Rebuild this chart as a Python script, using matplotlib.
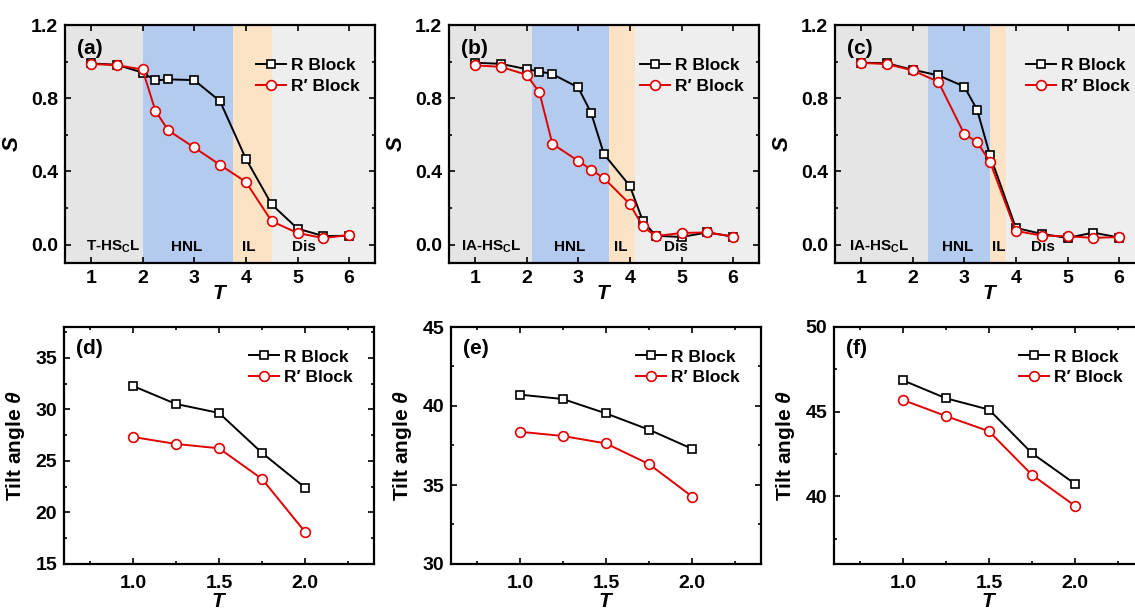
import matplotlib
matplotlib.use("Agg")
import matplotlib.pyplot as plt
from matplotlib.ticker import MultipleLocator, FormatStrFormatter

plt.rcParams['font.family'] = ['Liberation Sans', 'DejaVu Sans']
plt.rcParams['font.weight'] = 'bold'
plt.rcParams['axes.labelweight'] = 'bold'
plt.rcParams['mathtext.fontset'] = 'custom'
plt.rcParams['mathtext.rm'] = 'Liberation Sans:bold'
plt.rcParams['mathtext.it'] = 'Liberation Sans:italic:bold'
plt.rcParams['mathtext.bf'] = 'Liberation Sans:bold'

# ---- top row: order parameter S vs T ----
T_a = [1, 1.5, 2, 2.25, 2.5, 3, 3.5, 4, 4.5, 5, 5.5, 6]
S_a_R = [0.99, 0.983, 0.94, 0.897, 0.903, 0.899, 0.784, 0.47, 0.22, 0.088, 0.047, 0.049]
S_a_Rp = [0.987, 0.981, 0.957, 0.731, 0.624, 0.531, 0.436, 0.343, 0.128, 0.064, 0.036, 0.053]

T_b = [1, 1.5, 2, 2.25, 2.5, 3, 3.25, 3.5, 4, 4.25, 4.5, 5, 5.5, 6]
S_b_R = [0.994, 0.988, 0.959, 0.946, 0.932, 0.859, 0.72, 0.494, 0.321, 0.131, 0.049, 0.042, 0.067, 0.044]
S_b_Rp = [0.979, 0.972, 0.928, 0.832, 0.551, 0.458, 0.41, 0.363, 0.222, 0.10, 0.047, 0.064, 0.067, 0.044]

T_c = [1, 1.5, 2, 2.5, 3, 3.25, 3.5, 4, 4.5, 5, 5.5, 6]
S_c_R = [0.994, 0.991, 0.956, 0.925, 0.864, 0.738, 0.488, 0.092, 0.059, 0.037, 0.066, 0.039]
S_c_Rp = [0.993, 0.987, 0.952, 0.89, 0.606, 0.56, 0.453, 0.075, 0.05, 0.046, 0.037, 0.042]

# phase boundaries (T) and labels
bounds_a = [2.0, 3.75, 4.5]
bounds_b = [2.1, 3.6, 4.1]
bounds_c = [2.3, 3.5, 3.8]
phase_a = ['T-HS$_\\mathregular{C}$L', 'HNL', 'IL', 'Dis']
phase_bc = ['IA-HS$_\\mathregular{C}$L', 'HNL', 'IL', 'Dis']
labx_a = [1.43, 2.85, 4.06, 5.13]
labx_b = [1.31, 2.84, 3.82, 4.89]
labx_c = [1.35, 2.87, 3.67, 4.53]

# ---- bottom row: tilt angle vs T ----
T_low = [1.0, 1.25, 1.5, 1.75, 2.0]
tilt_d_R = [32.28, 30.53, 29.66, 25.78, 22.41]
tilt_d_Rp = [27.33, 26.65, 26.23, 23.25, 18.11]
tilt_e_R = [40.72, 40.44, 39.53, 38.5, 37.29]
tilt_e_Rp = [38.37, 38.1, 37.63, 36.32, 34.27]
tilt_f_R = [46.85, 45.79, 45.12, 42.54, 40.73]
tilt_f_Rp = [45.69, 44.74, 43.84, 41.26, 39.43]

region_cols = ['#e5e5e5', '#b2cbee', '#fde3c5', '#eeeeee']

fig = plt.figure(figsize=(11.35, 6.11), dpi=100)
W, H = 1135.0, 611.0


def make_ax(l, t, w, h):
    return fig.add_axes([l / W, 1 - (t + h) / H, w / W, h / H])


def style(ax):
    for s in ax.spines.values():
        s.set_linewidth(1.6)
    ax.tick_params(which='both', direction='in', top=True, right=True, width=1.2)
    ax.tick_params(which='major', length=4, labelsize=14, pad=5)
    ax.tick_params(which='minor', length=2.5)


def plot_pair(ax, x, yR, yRp, ms=6):
    ax.plot(x, yR, '-s', color='black', lw=1.4, ms=ms, mfc='white', mec='black', mew=1.2,
            label='R Block', zorder=3)
    ax.plot(x, yRp, '-o', color='#e00000', lw=1.4, ms=ms + 1, mfc='white', mec='#e00000', mew=1.2,
            label='R\u2032 Block', zorder=4)


def legend(ax, xf, yf):
    ax.legend(loc='upper left', bbox_to_anchor=(xf, yf), frameon=False, fontsize=12.5,
              handlelength=1.7, handletextpad=0.3, labelspacing=0.3, borderaxespad=0)


tops = [(65, 'a', T_a, S_a_R, S_a_Rp, bounds_a, phase_a, labx_a),
        (449, 'b', T_b, S_b_R, S_b_Rp, bounds_b, phase_bc, labx_b),
        (835, 'c', T_c, S_c_R, S_c_Rp, bounds_c, phase_bc, labx_c)]

for left, tag, x, yR, yRp, bnd, names, lx in tops:
    ax = make_ax(left, 25, 310, 238)
    edges = [0.5] + bnd + [6.5]
    for i in range(4):
        ax.axvspan(edges[i], edges[i + 1], color=region_cols[i], lw=0, zorder=0)
    plot_pair(ax, x, yR, yRp)
    for name, xx in zip(names, lx):
        ax.text(xx, -0.01, name, ha='center', va='center', fontsize=11, fontweight='bold')
    ax.set_xlim(0.5, 6.5)
    ax.set_ylim(-0.1, 1.2)
    ax.xaxis.set_major_locator(MultipleLocator(1))
    ax.yaxis.set_major_locator(MultipleLocator(0.4))
    ax.yaxis.set_minor_locator(MultipleLocator(0.2))
    ax.yaxis.set_major_formatter(FormatStrFormatter('%.1f'))
    style(ax)
    ax.set_xlabel('$T$', fontsize=15, labelpad=-2)
    ax.set_ylabel('$S$', fontsize=16, labelpad=6)
    ax.text(0.04, 0.94, '(%s)' % tag, transform=ax.transAxes, fontsize=15,
            fontweight='bold', va='top', ha='left')
    legend(ax, 0.595, 0.89)

bottoms = [(64, 'd', tilt_d_R, tilt_d_Rp, (15, 38)),
           (451, 'e', tilt_e_R, tilt_e_Rp, (30, 45)),
           (834, 'f', tilt_f_R, tilt_f_Rp, (36, 50))]

for left, tag, yR, yRp, ylim in bottoms:
    ax = make_ax(left, 327, 310, 237)
    plot_pair(ax, T_low, yR, yRp)
    ax.set_xlim(0.6, 2.4)
    ax.set_ylim(*ylim)
    ax.xaxis.set_major_locator(MultipleLocator(0.5))
    ax.xaxis.set_minor_locator(MultipleLocator(0.25))
    ax.xaxis.set_major_formatter(FormatStrFormatter('%.1f'))
    ax.yaxis.set_major_locator(MultipleLocator(5))
    ax.yaxis.set_minor_locator(MultipleLocator(2.5))
    style(ax)
    ax.tick_params(axis='x', which='major', pad=8)
    ax.set_xlabel('$T$', fontsize=15, labelpad=0)
    ax.set_ylabel('Tilt angle $\\theta$', fontsize=15, labelpad=6)
    ax.text(0.04, 0.95, '(%s)' % tag, transform=ax.transAxes, fontsize=15,
            fontweight='bold', va='top', ha='left')
    legend(ax, 0.575, 0.935)

fig.savefig('out.png', dpi=100)
